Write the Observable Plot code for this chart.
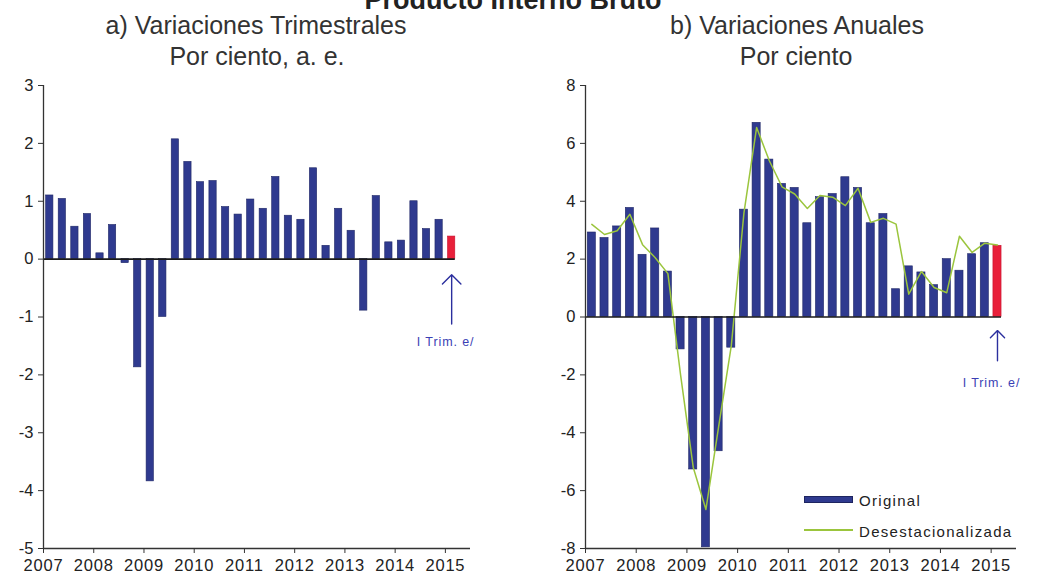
<!DOCTYPE html>
<html><head><meta charset="utf-8">
<script src="https://cdn.jsdelivr.net/npm/d3@7"></script>
<script src="https://cdn.jsdelivr.net/npm/@observablehq/plot@0.6"></script>
<style>
body{margin:0;background:#fff;font-family:"Liberation Sans",Arial,sans-serif;}
#wrap{position:relative;width:1038px;height:579px;overflow:hidden;background:#fff;}
.t{position:absolute;color:#333;white-space:nowrap;transform:translateX(-50%);line-height:1;}
.main{font-size:27px;font-weight:bold;color:#222;}
.sub{font-size:25px;}
.svgbox{position:absolute;top:0;}
.lg{position:absolute;font-size:15px;letter-spacing:1.3px;color:#222;line-height:1;white-space:nowrap;}
</style></head>
<body><div id="wrap">
<div class="t main" style="left:513px;top:-13px">Producto Interno Bruto</div>
<div class="t sub" style="left:256px;top:13px">a) Variaciones Trimestrales</div>
<div class="t sub" style="left:257px;top:44px">Por ciento, a. e.</div>
<div class="t sub" style="left:797px;top:13px">b) Variaciones Anuales</div>
<div class="t sub" style="left:796px;top:44px">Por ciento</div>
<div id="left" class="svgbox" style="left:0"></div>
<div id="right" class="svgbox" style="left:519px"></div>
<div style="position:absolute;left:804px;top:496px;width:49px;height:7px;background:#2f3a8f;border:1px solid #1e2560;box-sizing:border-box"></div>
<div class="lg" style="left:859px;top:493px">Original</div>
<div style="position:absolute;left:804px;top:529px;width:49px;height:1.5px;background:#9bc53d"></div>
<div class="lg" style="left:859px;top:524px">Desestacionalizada</div>
</div>
<script>
// ---- data ----
const periodos = ["2007-I","2007-II","2007-III","2007-IV","2008-I","2008-II","2008-III","2008-IV",
  "2009-I","2009-II","2009-III","2009-IV","2010-I","2010-II","2010-III","2010-IV",
  "2011-I","2011-II","2011-III","2011-IV","2012-I","2012-II","2012-III","2012-IV",
  "2013-I","2013-II","2013-III","2013-IV","2014-I","2014-II","2014-III","2014-IV","2015-I"];
const trimestral = [1.10,1.04,0.56,0.78,0.10,0.59,-0.07,-1.87,-3.84,-1.00,2.07,1.68,1.33,1.35,0.90,0.77,
  1.03,0.87,1.42,0.75,0.68,1.57,0.23,0.87,0.49,-0.89,1.09,0.29,0.32,1.00,0.52,0.68,0.39];
const anualOriginal = [2.92,2.73,3.13,3.77,2.15,3.06,1.57,-1.12,-5.27,-7.96,-4.64,-1.06,3.71,6.71,5.44,4.60,
  4.46,3.24,4.14,4.25,4.83,4.46,3.24,3.56,0.96,1.75,1.54,1.10,2.00,1.60,2.17,2.55,2.46];
const anualDesest = [3.20,2.85,2.98,3.55,2.50,2.05,1.50,-2.00,-5.20,-6.65,-3.80,-1.00,3.60,6.55,5.40,4.50,
  4.25,3.75,4.20,4.14,3.85,4.45,3.27,3.41,3.21,0.79,1.57,1.02,0.84,2.79,2.23,2.55,2.49];
const years = [2007,2008,2009,2010,2011,2012,2013,2014,2015];
const ticksA = [-5,-4,-3,-2,-1,0,1,2,3];
const ticksB = [-8,-6,-4,-2,0,2,4,6,8];
const notaTexto = "I Trim. e/";
const flechaA = {from: -1.12, to: -0.27, label: -1.43};
const flechaB = {from: -1.51, to: -0.47, label: -2.27};

// ---- build ----
const romans = ["I","II","III","IV"];
const data = periodos.map((p, i) => {
  const y = +p.slice(0, 4), q = romans.indexOf(p.slice(5));
  return {p, t: y + q / 4, a: trimestral[i], o: anualOriginal[i], s: anualDesest[i], last: i === periodos.length - 1};
});
const lastT = data[data.length - 1].t;
const navy = "#2f3a8f", red = "#e8203a", green = "#9bc53d", arrowC = "#2b2f9e";
const fmt = d => String(d);
const style = {fontFamily: "'Liberation Sans', Arial, sans-serif", color: "#222", background: "transparent", overflow: "visible"};

function panel(opts) {
  const {key, yDomain, yTicks, ml, mr, bw, flecha, withLine} = opts;
  const marks = [
    Plot.rect(data, {x1: d => d.t + 0.125 - bw / 2, x2: d => d.t + 0.125 + bw / 2, y1: 0, y2: key,
      fill: d => d.last ? red : navy, stroke: d => d.last ? "#c8102e" : "#1f2766", strokeWidth: 0.6})
  ];
  if (withLine) marks.push(Plot.line(data, {x: d => d.t + 0.125, y: "s", stroke: green, strokeWidth: 1.5}));
  marks.push(
    Plot.ruleY([0], {x1: 2007, x2: lastT + 0.125 + bw / 2, stroke: "#1a1a1a", strokeWidth: 1.6}),
    Plot.ruleX([2007], {stroke: "#333", strokeWidth: 1.3}),
    Plot.ruleY([yDomain[0]], {stroke: "#333", strokeWidth: 1.3}),
    Plot.axisY({ticks: yTicks, tickSize: 5, tickPadding: 5, tickFormat: fmt, stroke: "#333"}),
    Plot.axisX({ticks: years, tickSize: 5, tickPadding: 6, tickFormat: fmt, stroke: "#333"}),
    Plot.arrow([flecha], {x1: () => lastT + 0.125, x2: () => lastT + 0.125, y1: "from", y2: "to",
      stroke: arrowC, strokeWidth: 1.4, headLength: 14, headAngle: 90}),
    Plot.text([flecha], {x: () => lastT + 0.125, y: "label", text: () => notaTexto, dx: -6,
      fill: "#3a3fb5", fontSize: 12.5})
  );
  const svg = Plot.plot({
    width: 519, height: 579, marginLeft: ml, marginRight: mr, marginTop: 85, marginBottom: 31,
    x: {domain: [2007, 2015.5], label: null},
    y: {domain: yDomain, label: null},
    style, marks
  });
  const s = d3.select(svg);
  s.selectAll("g[aria-label='x-axis tick label'] text").style("font-size", "16.5px").style("letter-spacing", "0.8px").style("fill", "#222");
  s.selectAll("g[aria-label='y-axis tick label'] text").style("font-size", "16.5px").style("fill", "#222");
  s.selectAll("g[aria-label='text'] text").style("letter-spacing", "0.9px");
  return svg;
}

document.getElementById("left").append(panel({key: "a", yDomain: [-5, 3], yTicks: ticksA, ml: 43, mr: 49, bw: 0.145, flecha: flechaA, withLine: false}));
document.getElementById("right").append(panel({key: "o", yDomain: [-8, 8], yTicks: ticksB, ml: 66, mr: 22, bw: 0.16, flecha: flechaB, withLine: true}));
</script>
</body></html>
